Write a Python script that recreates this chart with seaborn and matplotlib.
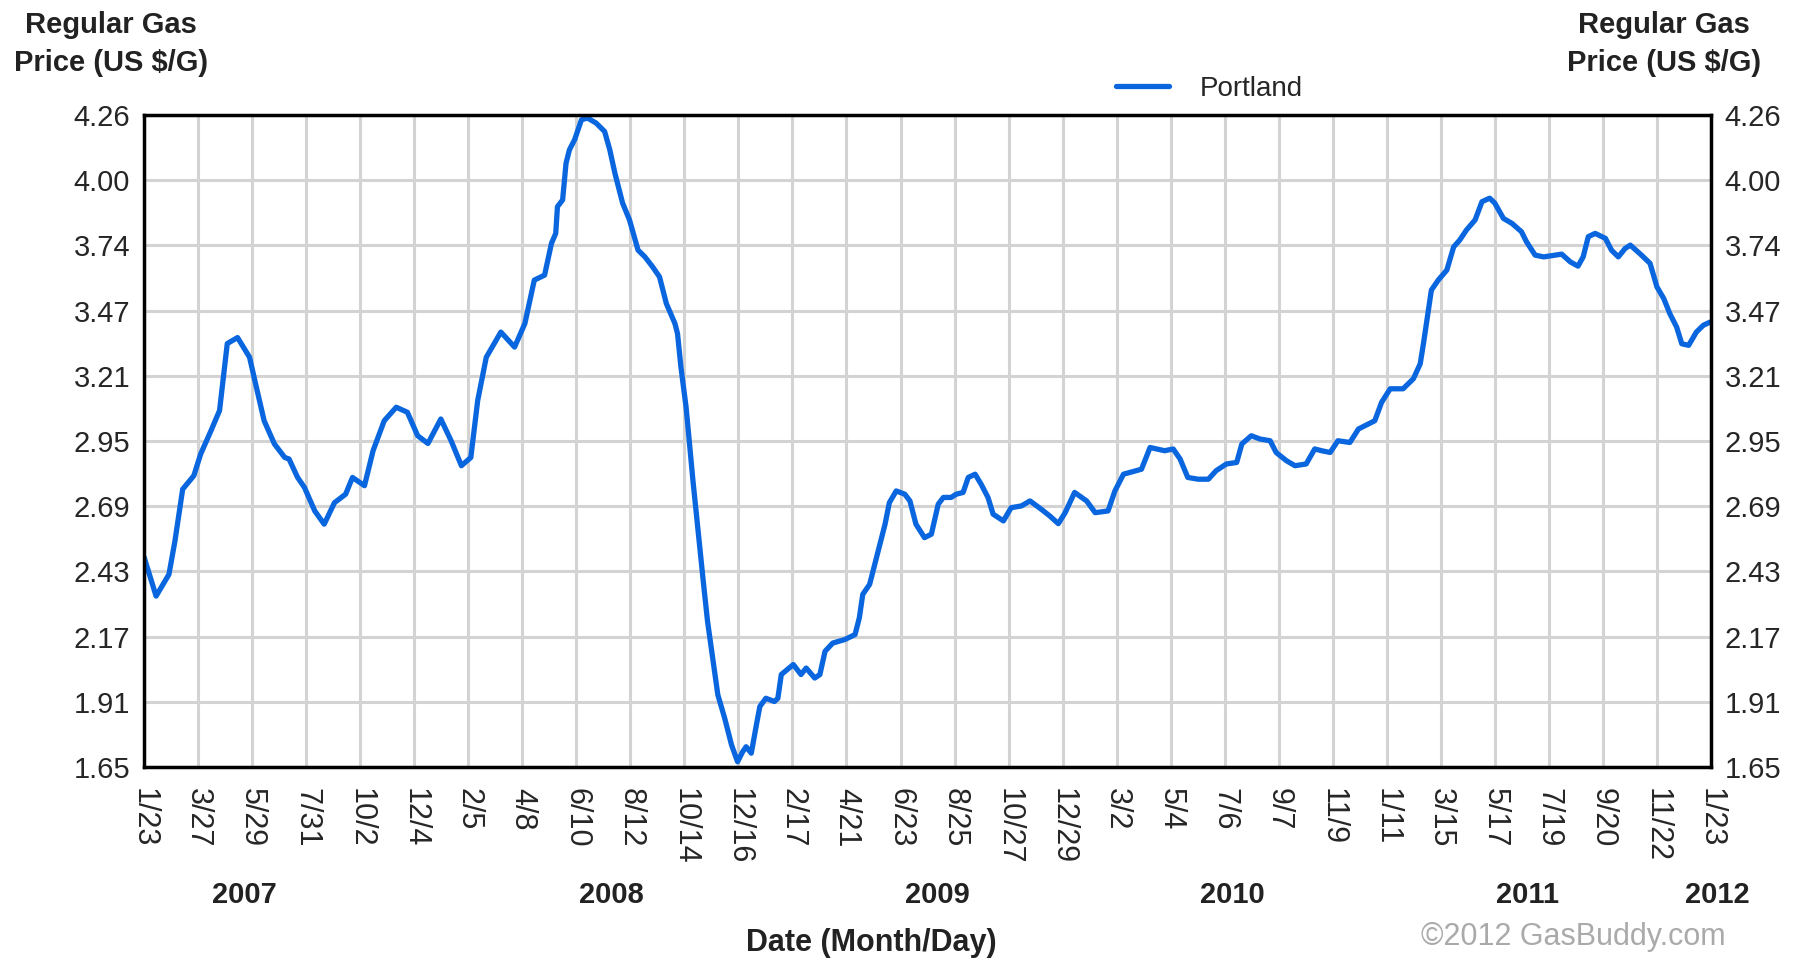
import numpy as np
import pandas as pd
import matplotlib
matplotlib.use('Agg')
import matplotlib.pyplot as plt
import matplotlib.transforms as mtransforms
import seaborn as sns

# days since 1/23/2007 and Portland regular gas price (US $/G)
days = [0, 14, 29, 36, 45, 58, 66, 78, 88, 97, 109, 123, 130, 140, 152, 164, 169, 179, 187, 199,
        210, 222, 235, 243, 257, 267, 280, 294, 307, 319, 331, 346, 358, 370, 381, 389, 399, 416, 432, 444,
        455, 467,
        475, 480, 482, 488, 492, 496, 502, 510, 517, 527, 537, 543, 549, 558, 566, 576, 584, 593, 601, 609,
        619, 622, 626, 632,
        640, 646, 652, 657, 663, 669, 677, 685, 692, 698, 702, 708, 714, 718, 725, 735, 739, 743, 757, 766,
        772, 782, 788, 794, 803, 817, 829, 834, 838, 846, 852, 858, 864, 869, 877, 887, 893, 900, 910, 918,
        926, 932, 941, 947, 955, 961, 969, 976, 984, 990, 1002, 1011, 1023, 1033,
        1046, 1056, 1066, 1074, 1085, 1099, 1109, 1124, 1132, 1142, 1163, 1173, 1190, 1200, 1208, 1217,
        1229, 1241, 1250, 1262, 1274, 1280, 1291, 1301, 1313, 1320, 1332, 1342, 1355, 1365, 1373, 1383,
        1392, 1406, 1416, 1435, 1443, 1453, 1468, 1480, 1488, 1492,
        1501, 1509, 1519, 1527, 1534, 1542, 1552, 1560, 1569, 1575, 1585, 1595, 1606, 1612, 1622, 1632,
        1653, 1663, 1672, 1678, 1684, 1692, 1704, 1711, 1719, 1727, 1733, 1746, 1756, 1764, 1772, 1779,
        1787, 1793, 1801, 1810, 1818, 1826]
price = [2.49, 2.334, 2.421, 2.555, 2.762, 2.816, 2.903, 2.996, 3.077, 3.345, 3.369, 3.29, 3.184, 3.036,
         2.943, 2.889, 2.883, 2.809, 2.769, 2.675, 2.622, 2.708, 2.742, 2.809, 2.776, 2.916, 3.036, 3.09,
         3.07, 2.976, 2.945, 3.043, 2.956, 2.856, 2.889, 3.117, 3.29, 3.391, 3.331, 3.425, 3.599, 3.619,
         3.746, 3.786, 3.893, 3.92, 4.067, 4.121, 4.161, 4.241, 4.248, 4.228, 4.194, 4.121, 4.027, 3.907,
         3.84, 3.719, 3.692, 3.652, 3.612, 3.505, 3.425, 3.385, 3.25, 3.09,
         2.796, 2.595, 2.394, 2.233, 2.086, 1.939, 1.845, 1.738, 1.671, 1.711, 1.731, 1.705, 1.819, 1.892,
         1.925, 1.912, 1.925, 2.02, 2.06, 2.02, 2.046, 2.006, 2.02, 2.113, 2.146, 2.16, 2.18, 2.247,
         2.341, 2.381, 2.461, 2.541, 2.622, 2.708, 2.755, 2.742, 2.715, 2.622, 2.568, 2.582, 2.702, 2.729,
         2.729, 2.742, 2.749, 2.809, 2.822, 2.782, 2.729, 2.662, 2.635, 2.688, 2.695, 2.715,
         2.682, 2.655, 2.624, 2.668, 2.749, 2.715, 2.668, 2.675, 2.755, 2.822, 2.842, 2.929, 2.916, 2.923,
         2.883, 2.809, 2.802, 2.802, 2.836, 2.863, 2.869, 2.943, 2.976, 2.963, 2.956, 2.909, 2.876, 2.856,
         2.863, 2.923, 2.916, 2.909, 2.956, 2.949, 3.003, 3.036, 3.11, 3.164, 3.164, 3.204, 3.264, 3.35,
         3.559, 3.599, 3.639, 3.732, 3.759, 3.8, 3.84, 3.913, 3.927, 3.907, 3.846, 3.826, 3.793, 3.752,
         3.699, 3.692, 3.703, 3.672, 3.655, 3.692, 3.773, 3.786, 3.766, 3.719, 3.692, 3.726, 3.739, 3.699,
         3.666, 3.572, 3.525, 3.465, 3.411, 3.344, 3.338, 3.391, 3.418, 3.431]

xtick_labels = ['1/23', '3/27', '5/29', '7/31', '10/2', '12/4', '2/5', '4/8', '6/10', '8/12',
                '10/14', '12/16', '2/17', '4/21', '6/23', '8/25', '10/27', '12/29', '3/2', '5/4',
                '7/6', '9/7', '11/9', '1/11', '3/15', '5/17', '7/19', '9/20', '11/22', '1/23']
tick_step = 63  # days between date labels
ytick_labels = ['1.65', '1.91', '2.17', '2.43', '2.69', '2.95', '3.21', '3.47', '3.74', '4.00', '4.26']
years = ['2007', '2008', '2009', '2010', '2011', '2012']
year_pos = [117, 545, 925, 1269, 1613, 1835]  # day offset where each year label sits

df = pd.DataFrame({'day': days, 'price': price})

sns.set_style('white')
plt.rcParams['font.family'] = ['Liberation Sans', 'DejaVu Sans']

fig = plt.figure(figsize=(18.01, 9.64), dpi=100)
ax = fig.add_axes([0.080, 0.2044, 0.870, 0.6763])

line_col = '#0a66de'
sns.lineplot(data=df, x='day', y='price', ax=ax, color=line_col, linewidth=3.8,
             label='Portland')

xt = [i * tick_step for i in range(len(xtick_labels))]
ax.set_xlim(0, xt[-1])
ax.set_xticks(xt)
ax.set_xticklabels(xtick_labels, rotation=-90, fontsize=22, va='top', ha='center')
yt = np.linspace(1.65, 4.26, len(ytick_labels))
ax.set_ylim(yt[0], yt[-1])
ax.set_yticks(yt)
ax.set_yticklabels(ytick_labels, fontsize=21)
ax.tick_params(axis='x', length=0, pad=15)
ax.tick_params(axis='y', length=0, pad=10, labelleft=True, labelright=True)
ax.set_xlabel('')
ax.set_ylabel('')

ax.grid(True, color='#d3d3d3', linewidth=2.2)
ax.set_axisbelow(True)
for sp in ax.spines.values():
    sp.set_color('black')
    sp.set_linewidth(2.5)

leg = ax.legend(loc='center left', bbox_to_anchor=(0.6197, 0.9077), bbox_transform=fig.transFigure,
                frameon=False, fontsize=20, handlelength=1.9, handletextpad=1.1,
                borderpad=0, borderaxespad=0)

# year labels under the date ticks
trans = mtransforms.blended_transform_factory(ax.transData, fig.transFigure)
for yr, pos in zip(years, year_pos):
    ax.text(pos, 0.0716, yr, transform=trans, ha='center', va='center',
            fontsize=21, fontweight='bold', color='#222222', clip_on=False)

ylab = 'Regular Gas\nPrice (US $/G)'
fig.text(0.0616, 0.989, ylab, ha='center', va='top', fontsize=21, fontweight='bold',
         color='#222222', linespacing=1.45, multialignment='center')
fig.text(0.924, 0.989, ylab, ha='center', va='top', fontsize=21, fontweight='bold',
         color='#222222', linespacing=1.45, multialignment='center')
fig.text(0.4836, 0.0218, 'Date (Month/Day)', ha='center', va='center', fontsize=22,
         fontweight='bold', color='#222222')
fig.text(0.958, 0.028, '\u00a92012 GasBuddy.com', ha='right', va='center', fontsize=22,
         color='#aaaaaa')

fig.savefig('out.png', dpi=100)
